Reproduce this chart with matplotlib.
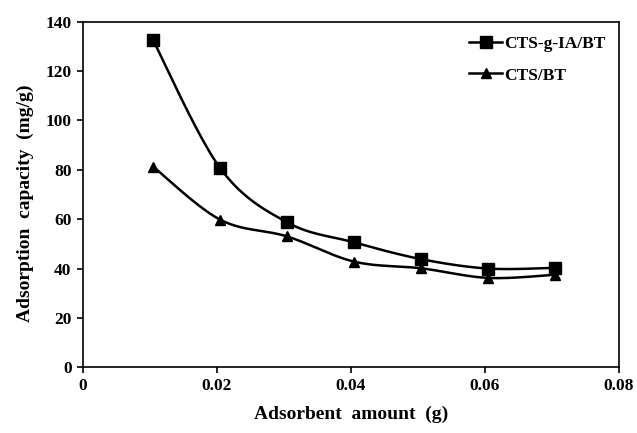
import numpy as np
import matplotlib
matplotlib.use("Agg")
import matplotlib.pyplot as plt
from matplotlib.lines import Line2D

x_vals = [0.0105, 0.0205, 0.0305, 0.0405, 0.0505, 0.0605, 0.0705]
cts_g_ia_bt = [132.5, 80.7, 58.7, 50.6, 43.8, 40.0, 40.3]
cts_bt = [81.3, 59.8, 53.0, 42.8, 40.1, 36.2, 37.5]
series_names = ["CTS-g-IA/BT", "CTS/BT"]
x_ticks = [0, 0.02, 0.04, 0.06, 0.08]
x_tick_labels = ["0", "0.02", "0.04", "0.06", "0.08"]
y_ticks = [0, 20, 40, 60, 80, 100, 120, 140]

plt.rcParams['font.family'] = ['Liberation Serif', 'DejaVu Serif']
plt.rcParams['font.weight'] = 'bold'


def smooth(xs, ys, n=40):
    xs = np.asarray(xs, float); ys = np.asarray(ys, float)
    P = np.column_stack([xs, ys])
    Pext = np.vstack([P[0], P, P[-1]])
    out = []
    for i in range(len(P) - 1):
        p0, p1, p2, p3 = Pext[i], Pext[i + 1], Pext[i + 2], Pext[i + 3]
        c1 = p1 + (p2 - p0) / 6.0
        c2 = p2 - (p3 - p1) / 6.0
        t = np.linspace(0, 1, n)[:, None]
        seg = ((1 - t) ** 3) * p1 + 3 * ((1 - t) ** 2) * t * c1 + 3 * (1 - t) * t ** 2 * c2 + t ** 3 * p2
        out.append(seg if i == 0 else seg[1:])
    arr = np.vstack(out)
    return arr[:, 0], arr[:, 1]

fig = plt.figure(figsize=(6.37, 4.33), dpi=100)
ax = fig.add_axes([82.7 / 637, 1 - 367.3 / 433, (619 - 82.7) / 637, (367.3 - 21.7) / 433])

for ys, mk, ms in [(cts_g_ia_bt, 's', 8.5), (cts_bt, '^', 7.5)]:
    sx, sy = smooth(x_vals, ys)
    ax.plot(sx, sy, color='black', lw=1.8, zorder=2)
    ax.plot(x_vals, ys, ls='none', marker=mk, ms=ms, color='black', zorder=3)

ax.set_xlim(0, 0.08)
ax.set_ylim(0, 140)
ax.set_xticks(x_ticks)
ax.set_xticklabels(x_tick_labels)
ax.set_yticks(y_ticks)
ax.tick_params(axis='both', direction='out', length=4, width=1.2, labelsize=12.5, pad=4, top=False, right=False)
for lab in ax.get_xticklabels() + ax.get_yticklabels():
    lab.set_fontweight('bold')
for sp in ax.spines.values():
    sp.set_linewidth(1.2)

ax.set_xlabel("Adsorbent  amount  (g)", fontsize=14, fontweight='bold', labelpad=8)
ax.set_ylabel("Adsorption  capacity  (mg/g)", fontsize=14, fontweight='bold')
ax.yaxis.set_label_coords(-0.09, 0.475)

handles = [Line2D([0], [0], color='black', lw=1.8, marker='s', ms=8.5),
           Line2D([0], [0], color='black', lw=1.8, marker='^', ms=7.5)]
ax.legend(handles, series_names, loc='upper right', bbox_to_anchor=(1.0, 1.0), frameon=False,
          prop={'size': 12.5, 'weight': 'bold'}, handlelength=1.9, handletextpad=0.1,
          labelspacing=0.9, borderaxespad=0.4)

fig.savefig("out.png", dpi=100, facecolor='white')
